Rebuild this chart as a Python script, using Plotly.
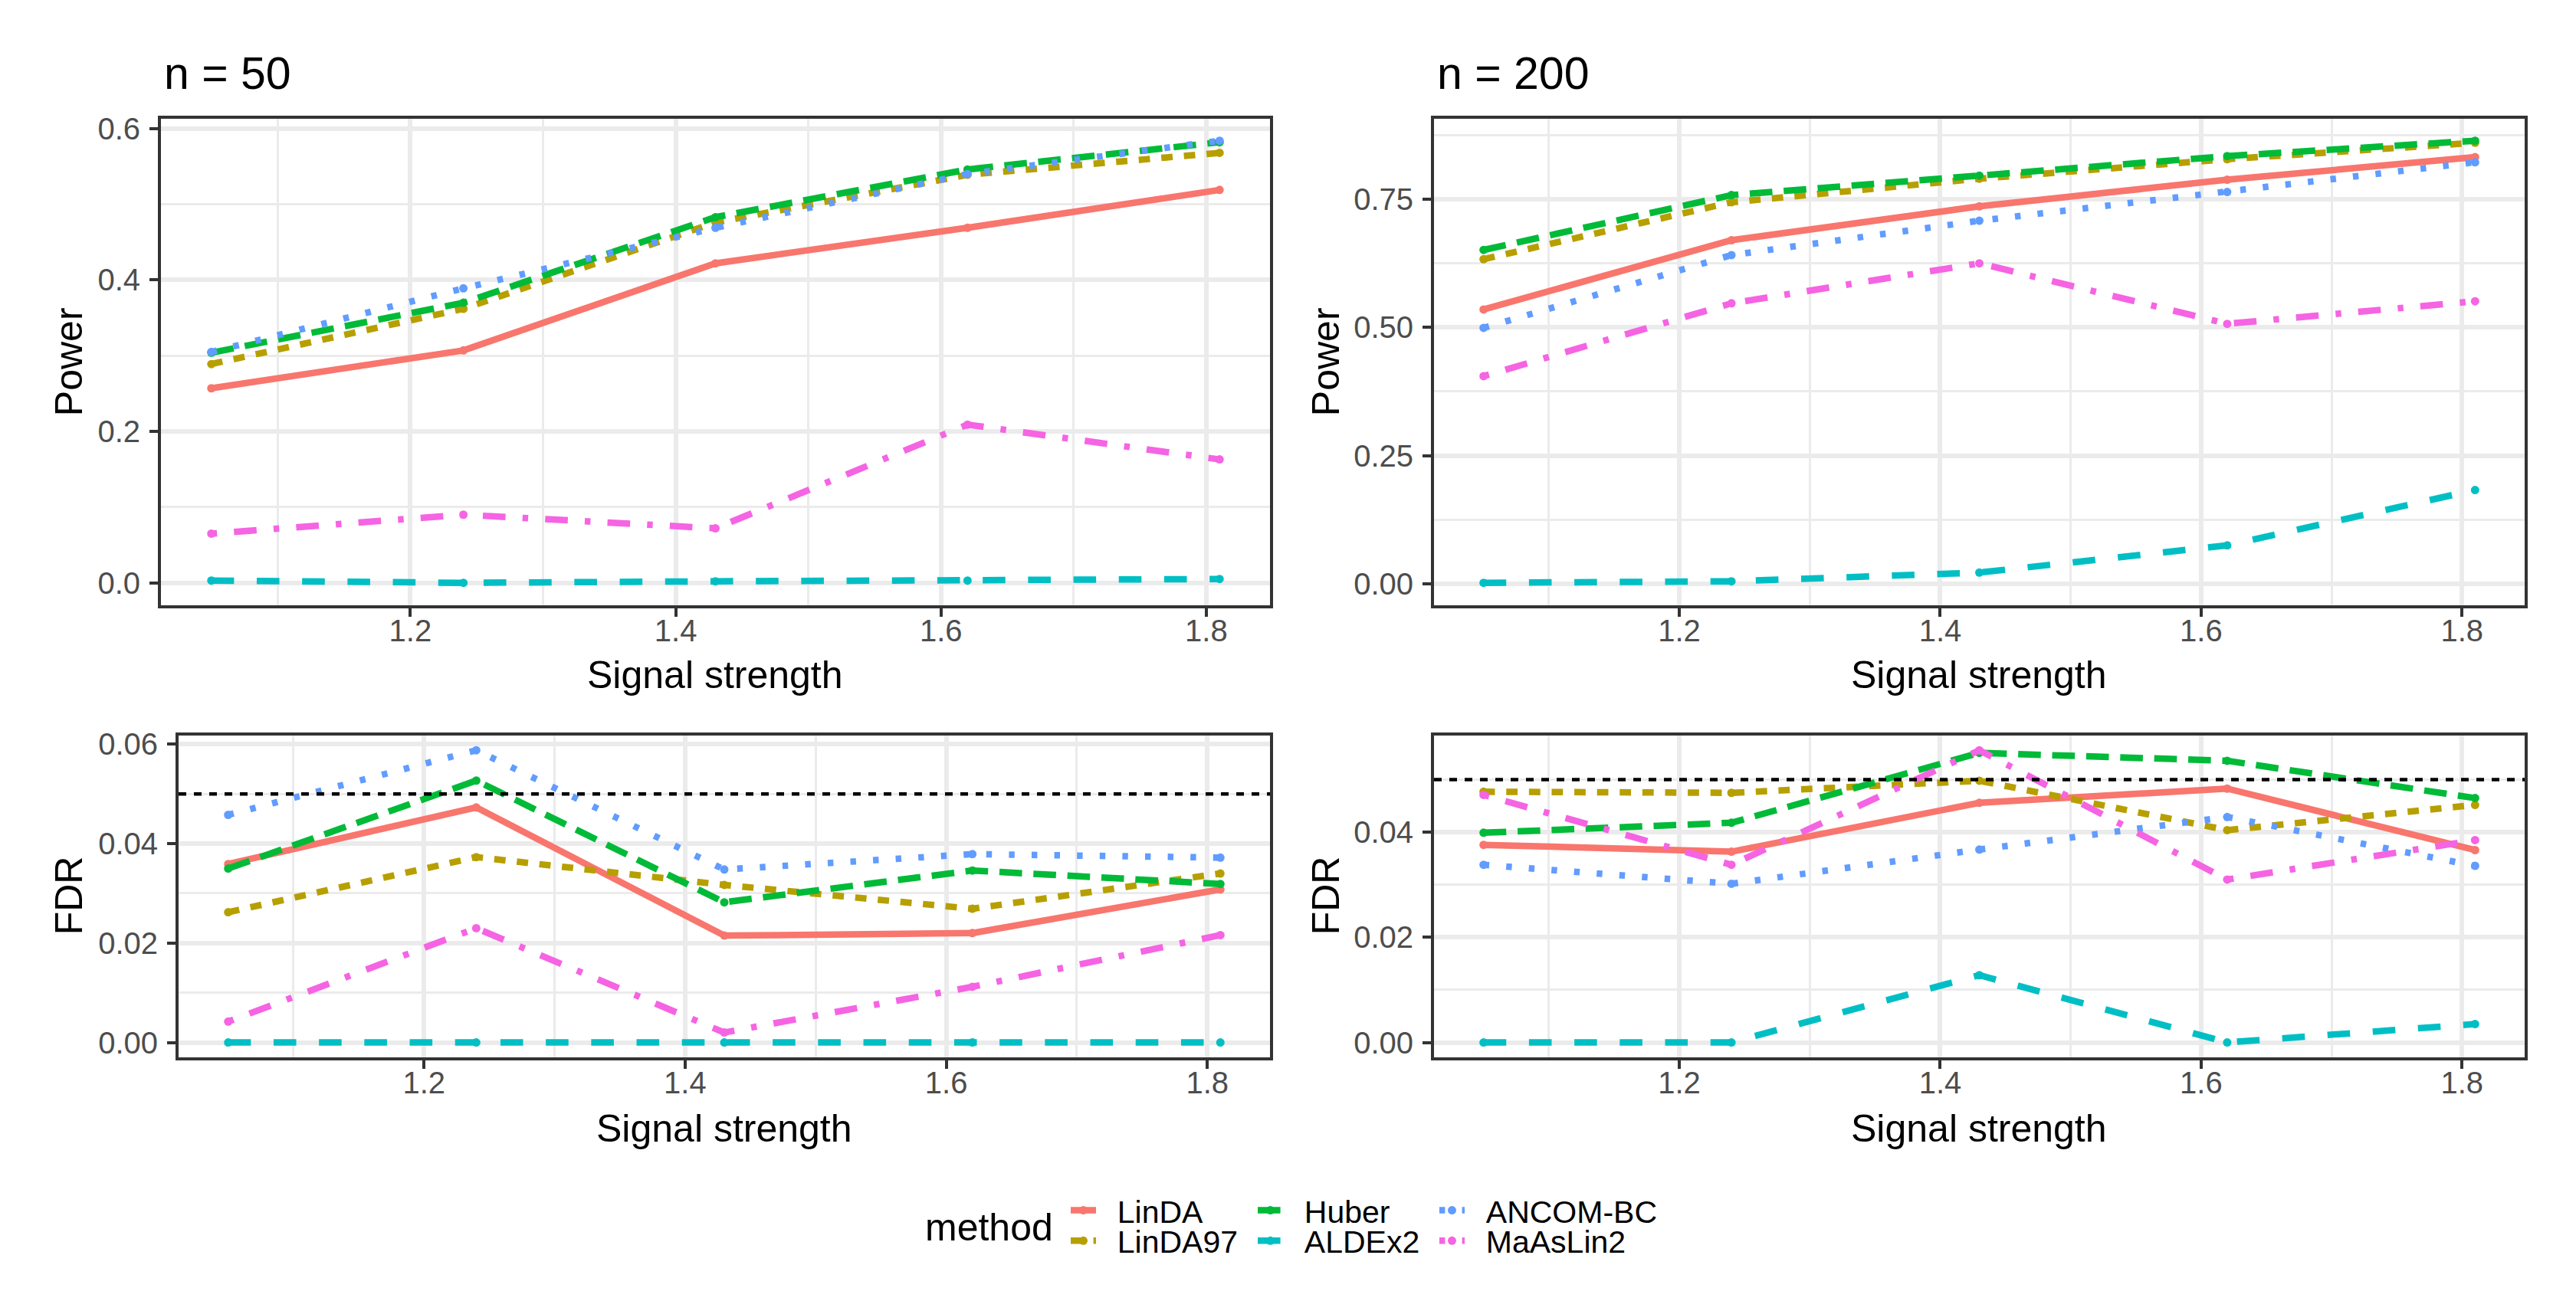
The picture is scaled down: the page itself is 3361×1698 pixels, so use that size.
import plotly.graph_objects as go

W, H = 3361, 1698

# ---------------- data ----------------
signal = [1.05, 1.24, 1.43, 1.62, 1.81]
methods = ["LinDA", "LinDA97", "Huber", "ALDEx2", "ANCOM-BC", "MaAsLin2"]

power_n50 = {
    "LinDA":    [0.257, 0.307, 0.422, 0.469, 0.519],
    "LinDA97":  [0.289, 0.362, 0.476, 0.539, 0.568],
    "Huber":    [0.304, 0.370, 0.483, 0.546, 0.582],
    "ALDEx2":   [0.003, 0.000, 0.002, 0.003, 0.005],
    "ANCOM-BC": [0.305, 0.389, 0.469, 0.540, 0.584],
    "MaAsLin2": [0.065, 0.090, 0.072, 0.209, 0.163],
}
power_n200 = {
    "LinDA":    [0.535, 0.670, 0.736, 0.788, 0.832],
    "LinDA97":  [0.633, 0.744, 0.790, 0.828, 0.860],
    "Huber":    [0.651, 0.758, 0.796, 0.834, 0.864],
    "ALDEx2":   [0.002, 0.005, 0.022, 0.075, 0.183],
    "ANCOM-BC": [0.499, 0.641, 0.708, 0.764, 0.822],
    "MaAsLin2": [0.405, 0.547, 0.625, 0.507, 0.551],
}
fdr_n50 = {
    "LinDA":    [0.0359, 0.0473, 0.0215, 0.0220, 0.0308],
    "LinDA97":  [0.0262, 0.0373, 0.0317, 0.0269, 0.0340],
    "Huber":    [0.0350, 0.0527, 0.0282, 0.0346, 0.0319],
    "ALDEx2":   [0.0, 0.0, 0.0, 0.0, 0.0],
    "ANCOM-BC": [0.0458, 0.0588, 0.0348, 0.0379, 0.0372],
    "MaAsLin2": [0.0042, 0.0230, 0.0020, 0.0112, 0.0216],
}
fdr_n200 = {
    "LinDA":    [0.0376, 0.0363, 0.0456, 0.0483, 0.0366],
    "LinDA97":  [0.0477, 0.0475, 0.0498, 0.0404, 0.0452],
    "Huber":    [0.0399, 0.0418, 0.0551, 0.0536, 0.0465],
    "ALDEx2":   [0.0, 0.0, 0.0128, 0.0, 0.0035],
    "ANCOM-BC": [0.0338, 0.0302, 0.0367, 0.0429, 0.0336],
    "MaAsLin2": [0.0471, 0.0338, 0.0556, 0.0310, 0.0385],
}
fdr_target = 0.05
titles = ["n = 50", "n = 200"]

# ---------------- style ----------------
colors = {"LinDA": "#F8766D", "LinDA97": "#B79F00", "Huber": "#00BA38",
          "ALDEx2": "#00BFC4", "ANCOM-BC": "#619CFF", "MaAsLin2": "#F564E3"}
LW = 8.5
u = 7.4
def dpat(*seg):
    return ",".join(f"{s*u:.1f}px" for s in seg)
dashes = {"LinDA": "solid", "LinDA97": dpat(2, 2), "Huber": dpat(4, 2),
          "ALDEx2": dpat(4, 4), "ANCOM-BC": dpat(1, 3), "MaAsLin2": dpat(1, 3, 4, 3)}
legend_of = {"LinDA": "legend", "LinDA97": "legend2", "Huber": "legend3",
             "ALDEx2": "legend4", "ANCOM-BC": "legend5", "MaAsLin2": "legend6"}
FONT = "Liberation Sans, Arial, Helvetica, sans-serif"
GAP = "\u00a0\u00a0"  # spacing between legend key and label

def fx(p): return p / W
def fy(p): return 1 - p / H

def expand(vals_list, mult=0.05):
    lo = min(min(v) for v in vals_list)
    hi = max(max(v) for v in vals_list)
    d = (hi - lo) * mult
    return [lo - d, hi + d]

fig = go.Figure()

panels = [
    # (data, xaxis id, yaxis id, x domain px, y domain px, dtick, fmt)
    (power_n50, "x", "y", (210, 1657), (145, 785), 0.2, ".1f"),
    (power_n200, "x2", "y2", (1871, 3294), (145, 785), 0.25, ".2f"),
    (fdr_n50, "x3", "y3", (233, 1657), (957, 1380), 0.02, ".2f"),
    (fdr_n200, "x4", "y4", (1871, 3294), (957, 1380), 0.02, ".2f"),
]

xr = expand([signal])
for i, (data, xa, ya, xd, yd, dt, fmt) in enumerate(panels):
    for m in methods:
        fig.add_trace(go.Scatter(
            x=signal, y=data[m], mode="lines+markers", name=GAP + m,
            xaxis=xa, yaxis=ya,
            line=dict(color=colors[m], width=LW, dash=dashes[m]),
            marker=dict(color=colors[m], size=11),
            showlegend=(i == 0), legend=legend_of[m],
        ))
    axis_common = dict(
        showline=True, mirror=True, linecolor="#333333", linewidth=4,
        showgrid=True, gridcolor="#EBEBEB", gridwidth=5.5, zeroline=False,
        ticks="outside", ticklen=11, tickwidth=4, tickcolor="#333333",
        tickfont=dict(family=FONT, size=40, color="#4D4D4D"),
    )
    xkey = "xaxis" + ("" if xa == "x" else xa[1:])
    ykey = "yaxis" + ("" if ya == "y" else ya[1:])
    fig.layout[xkey] = dict(
        axis_common, domain=[fx(xd[0]), fx(xd[1])], anchor=ya, range=xr,
        tick0=0, dtick=0.2, tickformat=".1f", ticklabelstandoff=-16,
        minor=dict(dtick=0.1, tick0=0, showgrid=True, gridcolor="#EBEBEB", gridwidth=3),
    )
    fig.layout[ykey] = dict(
        axis_common, domain=[fy(yd[1]), fy(yd[0])], anchor=xa,
        range=expand(list(data.values())),
        tick0=0, dtick=dt, tickformat=fmt, ticklabelstandoff=4,
        minor=dict(dtick=dt / 2, tick0=0, showgrid=True, gridcolor="#EBEBEB", gridwidth=3),
    )

# FDR reference lines
for xa, ya in [("x3", "y3"), ("x4", "y4")]:
    fig.add_shape(type="line", xref=f"{xa} domain", yref=ya, x0=0, x1=1,
                  y0=fdr_target, y1=fdr_target,
                  line=dict(color="black", width=4.5, dash="10px,10px"))

ann = []
# panel titles
for t, xpx in zip(titles, [212, 1873]):
    ann.append(dict(text=t, x=fx(xpx), y=fy(86), xref="paper", yref="paper",
                    xanchor="left", yanchor="middle", showarrow=False,
                    font=dict(family=FONT, size=59, color="black")))
# axis titles
for xc, yc in [(933, 877), (2582, 877), (945, 1474), (2582, 1474)]:
    ann.append(dict(text="Signal strength", x=fx(xc), y=fy(yc), xref="paper", yref="paper",
                    xanchor="center", yanchor="middle", showarrow=False,
                    font=dict(family=FONT, size=50, color="black")))
for t, xc, yc in [("Power", 90, 465), ("Power", 1730, 465), ("FDR", 90, 1168), ("FDR", 1730, 1168)]:
    ann.append(dict(text=t, x=fx(xc), y=fy(yc), xref="paper", yref="paper",
                    xanchor="center", yanchor="middle", showarrow=False, textangle=-90,
                    font=dict(family=FONT, size=50, color="black")))
# legend title
ann.append(dict(text="method", x=fx(1376), y=fy(1604), xref="paper", yref="paper",
                xanchor="right", yanchor="middle", showarrow=False,
                font=dict(family=FONT, size=50, color="black")))

leg_pos = {"legend": (1404, 1582), "legend2": (1404, 1622), "legend3": (1648, 1582),
           "legend4": (1648, 1622), "legend5": (1885, 1582), "legend6": (1885, 1622)}
legs = {}
for k, (lx, ly) in leg_pos.items():
    legs[k] = dict(x=fx(lx - 12), y=fy(ly), xanchor="left", yanchor="middle",
                   orientation="h", bgcolor="rgba(0,0,0,0)", borderwidth=0,
                   itemwidth=33, font=dict(family=FONT, size=41, color="black"))

fig.update_layout(
    width=W, height=H, margin=dict(l=0, r=0, t=0, b=0),
    paper_bgcolor="white", plot_bgcolor="white",
    annotations=ann, **legs,
)

fig.write_html("out.html", config={"displayModeBar": False},
               post_script="document.body.style.margin='0';")
